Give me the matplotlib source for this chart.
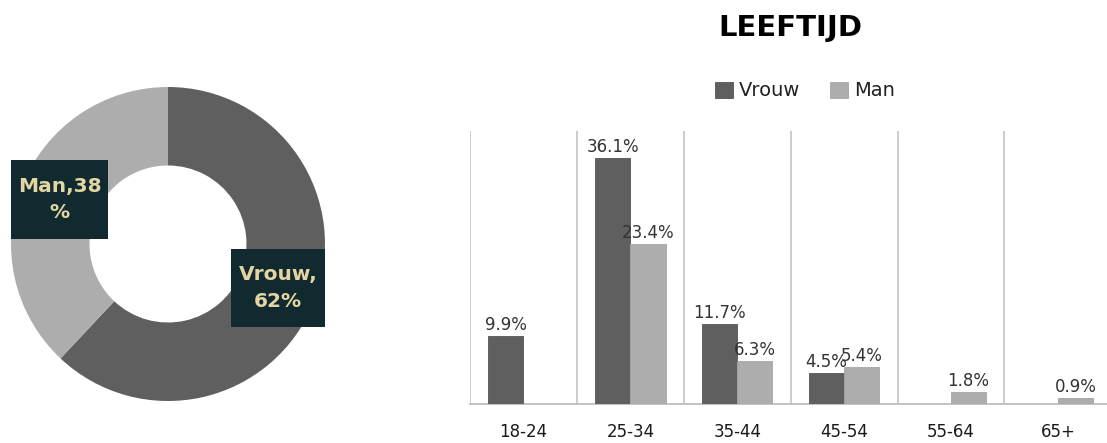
import numpy as np
import matplotlib
matplotlib.use('Agg')
from matplotlib import pyplot as plt
from matplotlib.patches import Rectangle

#==============================================================================
# data
#==============================================================================
gender_labels = ['Vrouw', 'Man']
gender_share  = [62, 38]

age_groups = ['18-24', '25-34', '35-44', '45-54', '55-64', '65+']
vrouw_pct  = [9.9, 36.1, 11.7, 4.5, 0.0, 0.0]
man_pct    = [0.0, 23.4, 6.3, 5.4, 1.8, 0.9]

dark  = '#5f5f5f'
light = '#adadad'
box_col  = '#112a30'
box_text = '#e4d6a2'

W, H = 1107, 443
fig = plt.figure(figsize=(W/100, H/100), dpi=100)

#==============================================================================
# donut
#==============================================================================
cx, cy, r = 168, 244, 157
ax1 = fig.add_axes([(cx-r)/W, (H-cy-r)/H, 2*r/W, 2*r/H])
ax1.pie(gender_share, colors=[dark, light], startangle=90, counterclock=False,
        radius=1.0, wedgeprops=dict(width=0.5, linewidth=0))
ax1.set_xlim(-1, 1)
ax1.set_ylim(-1, 1)
ax1.set_aspect('equal')
ax1.axis('off')

#label boxes (x0, y0, w, h in donut units)
boxes = {'Man':   (-1.0, 0.032, 0.618, 0.503),
         'Vrouw': (0.40, -0.53, 0.60, 0.498)}
for name, val in zip(gender_labels, gender_share):
    x0, y0, bw, bh = boxes[name]
    ax1.add_patch(Rectangle((x0, y0), bw, bh, facecolor=box_col,
                            edgecolor='none', clip_on=False, zorder=5))
    if name == 'Man':
        txt = '%s,%d\n%%' % (name, val)
    else:
        txt = '%s,\n%d%%' % (name, val)
    ax1.text(x0 + bw/2, y0 + bh/2, txt, ha='center', va='center',
             color=box_text, fontsize=14.5, fontweight='bold',
             linespacing=1.5, zorder=6, clip_on=False)

#==============================================================================
# bar chart
#==============================================================================
left, right, base, top = 470, 1107, 404, 131
ax2 = fig.add_axes([left/W, (H-base)/H, (right-left)/W, (base-top)/H])
x = np.arange(len(age_groups))
bw = 0.33
b1 = ax2.bar(x - bw/2, vrouw_pct, bw, color=dark, edgecolor='#555555',
             linewidth=0.6, label='Vrouw', zorder=3)
b2 = ax2.bar(x + bw/2, man_pct, bw, color=light, edgecolor='#a4a4a4',
             linewidth=0.6, label='Man', zorder=3)
for bars, vals in [(b1, vrouw_pct), (b2, man_pct)]:
    for b, v in zip(bars, vals):
        if v > 0:
            ax2.text(b.get_x() + b.get_width()/2, v + 0.3, '%.1f%%' % v,
                     ha='center', va='bottom', fontsize=12, color='#333333',
                     zorder=4)

ax2.set_xlim(-0.5, 5.46)
ax2.set_ylim(0, 40)
ax2.set_xticks(x)
ax2.set_xticklabels(age_groups, fontsize=12, color='#1a1a1a')
ax2.set_xticks(np.arange(-0.5, 5.0, 1.0), minor=True)
ax2.tick_params(axis='x', which='both', length=0, pad=14)
ax2.grid(which='minor', axis='x', color='#c8c8c8', linewidth=1.3, zorder=0)
ax2.set_yticks([])
for s in ['top', 'right', 'left']:
    ax2.spines[s].set_visible(False)
ax2.spines['bottom'].set_color('#bdbdbd')
ax2.spines['bottom'].set_linewidth(1.3)

fig.text(790/W, 1 - 28/H, 'LEEFTIJD', ha='center', va='center',
         fontsize=21, fontweight='bold', color='black')
fig.legend(handles=[b1, b2], labels=gender_labels, loc='center',
           bbox_to_anchor=(805/W, 1 - 91/H), ncol=2, frameon=False,
           fontsize=14, handlelength=0.93, handleheight=0.93,
           handletextpad=0.3, columnspacing=1.5, labelcolor='#222222')

plt.savefig('out.png', dpi=100)
